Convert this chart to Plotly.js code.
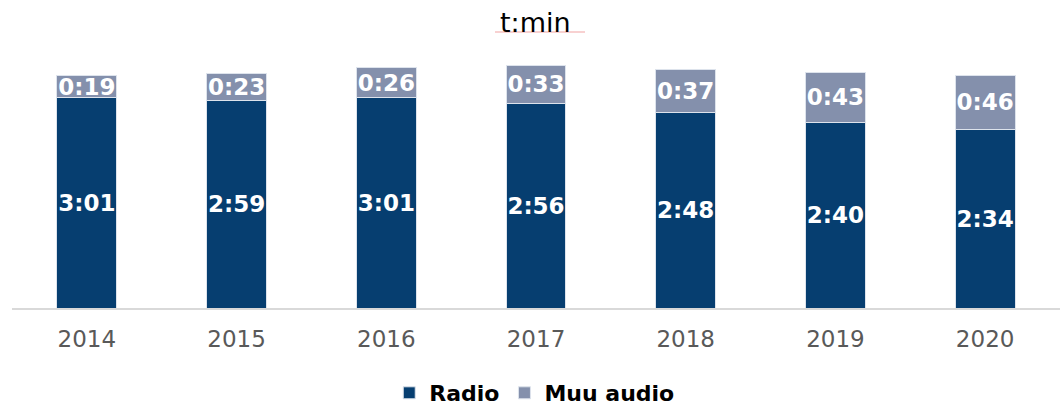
<!DOCTYPE html>
<html>
<head>
<meta charset="utf-8">
<script src="https://cdn.plot.ly/plotly-3.0.1.min.js"></script>
<style>
  html, body { margin: 0; padding: 0; background: #ffffff; }
  #chart { width: 1060px; height: 405px; }
</style>
</head>
<body>
<div id="chart"></div>
<script>
// Data (minutes per day)
var years = ['2014', '2015', '2016', '2017', '2018', '2019', '2020'];
var radioMinutes = [181, 179, 181, 176, 168, 160, 154];
var otherAudioMinutes = [19, 23, 26, 33, 37, 43, 46];
var seriesNames = ['Radio', 'Muu audio'];
var subtitleText = 't:min';

function hmm(m) {
  var h = Math.floor(m / 60), r = m % 60;
  return h + ':' + (r < 10 ? '0' + r : r);
}

var labelFont = { family: 'DejaVu Sans, Verdana, sans-serif', size: 23, color: '#ffffff', weight: 'bold' };

var traces = [
  {
    type: 'bar', name: seriesNames[0], x: years, y: radioMinutes,
    text: radioMinutes.map(hmm), textposition: 'inside', insidetextanchor: 'middle', textangle: 0,
    constraintext: 'none', textfont: labelFont, hoverinfo: 'skip',
    marker: { color: '#063E70', line: { color: '#dde3ec', width: 1 } }
  },
  {
    type: 'bar', name: seriesNames[1], x: years, y: otherAudioMinutes,
    text: otherAudioMinutes.map(hmm), textposition: 'inside', insidetextanchor: 'middle', textangle: 0,
    constraintext: 'none', textfont: labelFont, hoverinfo: 'skip',
    marker: { color: '#8490AC', line: { color: '#dde3ec', width: 1 } }
  }
];

var H = 405, W = 1060;
var plotTop = 40, plotBottom = 97;
var plotH = H - plotTop - plotBottom;

var layout = {
  width: W, height: H,
  margin: { l: 12, r: 0, t: plotTop, b: plotBottom, pad: 0, autoexpand: false },
  paper_bgcolor: '#ffffff', plot_bgcolor: '#ffffff',
  barmode: 'stack', bargap: 0.6,
  showlegend: true,
  legend: {
    orientation: 'h', xref: 'container', x: 0.504, xanchor: 'center',
    yref: 'container', y: (H - 393) / H, yanchor: 'middle',
    font: { family: 'DejaVu Sans, Verdana, sans-serif', size: 22, color: '#000000', weight: 'bold' },
    traceorder: 'normal', itemclick: false, itemdoubleclick: false
  },
  xaxis: {
    type: 'category', range: [-0.5, 6.5], fixedrange: true,
    showline: true, linecolor: '#d9d9d9', linewidth: 2,
    ticks: '', showgrid: false, zeroline: false, ticklabelstandoff: 9,
    tickfont: { family: 'DejaVu Sans, Verdana, sans-serif', size: 23, color: '#595959' }
  },
  yaxis: {
    range: [0, plotH / 1.162], showticklabels: false, showgrid: false,
    zeroline: false, showline: false, ticks: '', fixedrange: true
  },
  annotations: [
    {
      text: subtitleText, xref: 'paper', yref: 'paper',
      x: (535 - 12) / 1048, xanchor: 'center', y: (H - plotBottom - 23) / plotH, yanchor: 'middle',
      showarrow: false,
      font: { family: 'DejaVu Sans, Verdana, sans-serif', size: 27, color: '#000000' }
    }
  ],
  shapes: [
    {
      type: 'line', xref: 'paper', yref: 'paper',
      x0: (495 - 12) / 1048, x1: (585 - 12) / 1048,
      y0: (H - plotBottom - 32) / plotH, y1: (H - plotBottom - 32) / plotH,
      line: { color: '#f2a3a3', width: 1.2 }
    }
  ]
};

Plotly.newPlot('chart', traces, layout, { displayModeBar: false, staticPlot: true });
</script>
</body>
</html>
